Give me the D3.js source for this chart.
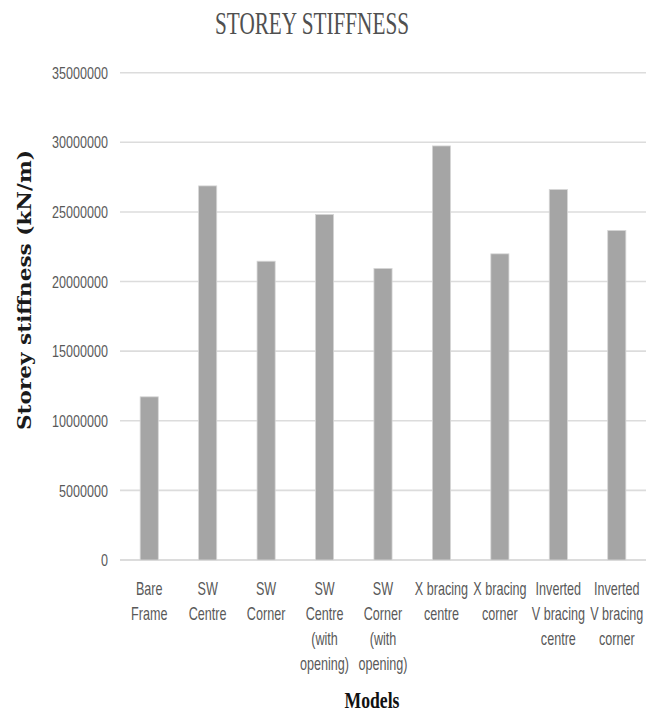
<!DOCTYPE html>
<html>
<head>
<meta charset="utf-8">
<script src="https://cdn.jsdelivr.net/npm/d3@7"></script>
<style>
  html, body { margin: 0; padding: 0; background: #fff; }
  svg { display: block; }
</style>
</head>
<body>
<svg id="chart" width="655" height="715"></svg>
<script>
// Model names; "\n" marks where each axis label wraps
const categories = [
  "Bare\nFrame",
  "SW\nCentre",
  "SW\nCorner",
  "SW\nCentre\n(with\nopening)",
  "SW\nCorner\n(with\nopening)",
  "X bracing\ncentre",
  "X bracing\ncorner",
  "Inverted\nV bracing\ncentre",
  "Inverted\nV bracing\ncorner"
];

// Storey stiffness in kN/m
const stiffness = [
  11720000, 26870000, 21460000, 24820000, 20940000,
  29740000, 21990000, 26610000, 23670000
];

const yTicks = [0, 5000000, 10000000, 15000000, 20000000, 25000000, 30000000, 35000000];

const svg = d3.select("#chart");
const plot = { left: 120, right: 646, top: 72.7, bottom: 560 };
const squeeze = 0.74; // narrow sans look for tick and category text

const x = d3.scaleBand()
  .domain(categories)
  .range([plot.left, plot.right])
  .paddingInner(0.69)
  .paddingOuter(0.345);

const y = d3.scaleLinear()
  .domain([0, 35000000])
  .range([plot.bottom, plot.top]);

// Gridlines
svg.append("g")
  .selectAll("line")
  .data(yTicks)
  .join("line")
  .attr("x1", plot.left)
  .attr("x2", plot.right)
  .attr("y1", d => y(d))
  .attr("y2", d => y(d))
  .attr("stroke", d => d === 0 ? "#d0d0d0" : "#dcdcdc")
  .attr("stroke-width", 1.6);

// Y tick labels
svg.append("g")
  .selectAll("text")
  .data(yTicks)
  .join("text")
  .attr("transform", d => `translate(108,${y(d)}) scale(${squeeze},1)`)
  .attr("dy", "0.36em")
  .attr("text-anchor", "end")
  .attr("font-family", "Liberation Sans, Arial, sans-serif")
  .attr("font-size", 17)
  .attr("fill", "#595959")
  .text(d => d3.format("d")(d));

// Bars
svg.append("g")
  .selectAll("rect")
  .data(categories.map((c, i) => ({ c, v: stiffness[i] })))
  .join("rect")
  .attr("x", d => x(d.c))
  .attr("width", x.bandwidth())
  .attr("y", d => y(d.v))
  .attr("height", d => y(0) - y(d.v))
  .attr("fill", "#a5a5a5")
  .attr("stroke", "#d6d6d6")
  .attr("stroke-width", 0.8);

// Category labels (wrapped)
const catG = svg.append("g");
categories.forEach(c => {
  const cx = x(c) + x.bandwidth() / 2;
  c.split("\n").forEach((line, k) => {
    catG.append("text")
      .attr("transform", `translate(${cx},${595 + k * 25}) scale(0.72,1)`)
      .attr("text-anchor", "middle")
      .attr("font-family", "Liberation Sans, Arial, sans-serif")
      .attr("font-size", 17.5)
      .attr("fill", "#595959")
      .text(line);
  });
});

// Title
svg.append("text")
  .attr("x", 312)
  .attr("y", 34)
  .attr("text-anchor", "middle")
  .attr("font-family", "Liberation Serif, 'Times New Roman', serif")
  .attr("font-size", 31)
  .attr("fill", "#505050")
  .attr("textLength", 194)
  .attr("lengthAdjust", "spacingAndGlyphs")
  .text("STOREY STIFFNESS");

// Y axis title
svg.append("text")
  .attr("transform", "translate(31,290) rotate(-90)")
  .attr("text-anchor", "middle")
  .attr("font-family", "DejaVu Serif, Liberation Serif, serif")
  .attr("font-weight", "bold")
  .attr("font-size", 19)
  .attr("fill", "#1a1a1a")
  .attr("textLength", 280)
  .attr("lengthAdjust", "spacingAndGlyphs")
  .text("Storey stiffness (kN/m)");

// X axis title
svg.append("text")
  .attr("x", 372)
  .attr("y", 708)
  .attr("text-anchor", "middle")
  .attr("font-family", "Liberation Serif, 'Times New Roman', serif")
  .attr("font-weight", "bold")
  .attr("font-size", 23)
  .attr("fill", "#111")
  .attr("textLength", 55)
  .attr("lengthAdjust", "spacingAndGlyphs")
  .text("Models");
</script>
</body>
</html>
